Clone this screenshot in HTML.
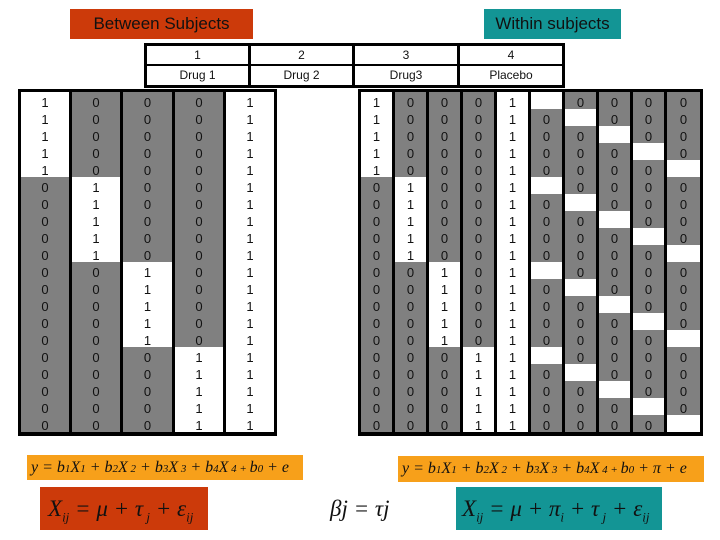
<!DOCTYPE html>
<html><head><meta charset="utf-8"><style>
body{margin:0;width:720px;height:540px;background:#fff;position:relative;overflow:hidden;font-family:"Liberation Sans",Arial,sans-serif}
.a{position:absolute}
.col{position:absolute;top:92px;height:340px;text-align:center;font-size:13px;line-height:17px;color:#111;padding-top:2px;box-sizing:border-box}
.L{width:48px}.R{width:31px}
.hd{position:absolute;background:#000}
.hc{position:absolute;background:#fff;text-align:center;font-size:12px;color:#111}
.eq{font-family:"Liberation Serif",serif;font-style:italic;color:#111;white-space:nowrap}
</style></head><body>
<div class="a" style="left:70px;top:9px;width:183px;height:30px;background:#cc3a0a;font-size:17px;line-height:30px;text-align:center;color:#111">Between Subjects</div>
<div class="a" style="left:484px;top:9px;width:137px;height:30px;background:#139595;font-size:17px;line-height:30px;text-align:center;color:#111">Within subjects</div>

<div class="hd" style="left:144px;top:43px;width:421px;height:45px"></div>
<div class="hc" style="left:147px;top:46px;width:101px;height:18px;line-height:18px">1</div>
<div class="hc" style="left:251px;top:46px;width:101px;height:18px;line-height:18px">2</div>
<div class="hc" style="left:355px;top:46px;width:102px;height:18px;line-height:18px">3</div>
<div class="hc" style="left:460px;top:46px;width:102px;height:18px;line-height:18px">4</div>
<div class="hc" style="left:147px;top:66px;width:101px;height:19px;line-height:19px">Drug 1</div>
<div class="hc" style="left:251px;top:66px;width:101px;height:19px;line-height:19px">Drug 2</div>
<div class="hc" style="left:355px;top:66px;width:102px;height:19px;line-height:19px">Drug3</div>
<div class="hc" style="left:460px;top:66px;width:102px;height:19px;line-height:19px">Placebo</div>

<!-- left block -->
<div class="a" style="left:18px;top:89px;width:259px;height:347px;background:#000"></div>
<div class="col L" style="left:21px;background:linear-gradient(#fff 0 85px,#808080 85px)">1<br>1<br>1<br>1<br>1<br>0<br>0<br>0<br>0<br>0<br>0<br>0<br>0<br>0<br>0<br>0<br>0<br>0<br>0<br>0</div>
<div class="col L" style="left:72px;background:linear-gradient(#808080 0 85px,#fff 85px 170px,#808080 170px)">0<br>0<br>0<br>0<br>0<br>1<br>1<br>1<br>1<br>1<br>0<br>0<br>0<br>0<br>0<br>0<br>0<br>0<br>0<br>0</div>
<div class="col L" style="left:123px;width:49px;background:linear-gradient(#808080 0 170px,#fff 170px 255px,#808080 255px)">0<br>0<br>0<br>0<br>0<br>0<br>0<br>0<br>0<br>0<br>1<br>1<br>1<br>1<br>1<br>0<br>0<br>0<br>0<br>0</div>
<div class="col L" style="left:175px;background:linear-gradient(#808080 0 255px,#fff 255px)">0<br>0<br>0<br>0<br>0<br>0<br>0<br>0<br>0<br>0<br>0<br>0<br>0<br>0<br>0<br>1<br>1<br>1<br>1<br>1</div>
<div class="col L" style="left:226px;background:#fff">1<br>1<br>1<br>1<br>1<br>1<br>1<br>1<br>1<br>1<br>1<br>1<br>1<br>1<br>1<br>1<br>1<br>1<br>1<br>1</div>

<!-- right block -->
<div class="a" style="left:358px;top:89px;width:345px;height:347px;background:#000"></div>
<div class="col R" style="left:361px;background:linear-gradient(#fff 0 85px,#808080 85px)">1<br>1<br>1<br>1<br>1<br>0<br>0<br>0<br>0<br>0<br>0<br>0<br>0<br>0<br>0<br>0<br>0<br>0<br>0<br>0</div>
<div class="col R" style="left:395px;background:linear-gradient(#808080 0 85px,#fff 85px 170px,#808080 170px)">0<br>0<br>0<br>0<br>0<br>1<br>1<br>1<br>1<br>1<br>0<br>0<br>0<br>0<br>0<br>0<br>0<br>0<br>0<br>0</div>
<div class="col R" style="left:429px;background:linear-gradient(#808080 0 170px,#fff 170px 255px,#808080 255px)">0<br>0<br>0<br>0<br>0<br>0<br>0<br>0<br>0<br>0<br>1<br>1<br>1<br>1<br>1<br>0<br>0<br>0<br>0<br>0</div>
<div class="col R" style="left:463px;background:linear-gradient(#808080 0 255px,#fff 255px)">0<br>0<br>0<br>0<br>0<br>0<br>0<br>0<br>0<br>0<br>0<br>0<br>0<br>0<br>0<br>1<br>1<br>1<br>1<br>1</div>
<div class="col R" style="left:497px;background:#fff">1<br>1<br>1<br>1<br>1<br>1<br>1<br>1<br>1<br>1<br>1<br>1<br>1<br>1<br>1<br>1<br>1<br>1<br>1<br>1</div>
<div class="col R" style="left:531px;background:repeating-linear-gradient(#fff 0 17px,#808080 17px 85px)">&nbsp;<br>0<br>0<br>0<br>0<br>&nbsp;<br>0<br>0<br>0<br>0<br>&nbsp;<br>0<br>0<br>0<br>0<br>&nbsp;<br>0<br>0<br>0<br>0</div>
<div class="col R" style="left:565px;background:repeating-linear-gradient(#808080 0 17px,#fff 17px 34px,#808080 34px 85px)">0<br>&nbsp;<br>0<br>0<br>0<br>0<br>&nbsp;<br>0<br>0<br>0<br>0<br>&nbsp;<br>0<br>0<br>0<br>0<br>&nbsp;<br>0<br>0<br>0</div>
<div class="col R" style="left:599px;background:repeating-linear-gradient(#808080 0 34px,#fff 34px 51px,#808080 51px 85px)">0<br>0<br>&nbsp;<br>0<br>0<br>0<br>0<br>&nbsp;<br>0<br>0<br>0<br>0<br>&nbsp;<br>0<br>0<br>0<br>0<br>&nbsp;<br>0<br>0</div>
<div class="col R" style="left:633px;background:repeating-linear-gradient(#808080 0 51px,#fff 51px 68px,#808080 68px 85px)">0<br>0<br>0<br>&nbsp;<br>0<br>0<br>0<br>0<br>&nbsp;<br>0<br>0<br>0<br>0<br>&nbsp;<br>0<br>0<br>0<br>0<br>&nbsp;<br>0</div>
<div class="col R" style="left:667px;width:33px;background:repeating-linear-gradient(#808080 0 68px,#fff 68px 85px)">0<br>0<br>0<br>0<br>&nbsp;<br>0<br>0<br>0<br>0<br>&nbsp;<br>0<br>0<br>0<br>0<br>&nbsp;<br>0<br>0<br>0<br>0<br>&nbsp;</div>

<!-- equations -->
<div class="a eq" style="left:27px;top:455px;width:276px;height:25px;background:#f7a01a;font-size:16px;line-height:25px;padding-left:4px;box-sizing:border-box">y = b<span style="font-size:11px">1</span>X<span style="font-size:11px">1</span> + b<span style="font-size:11px">2</span>X<span style="font-size:11px"> 2</span> + b<span style="font-size:11px">3</span>X<span style="font-size:11px"> 3</span> + b<span style="font-size:11px">4</span>X<span style="font-size:11px"> 4 + </span>b<span style="font-size:11px">0</span> + e</div>
<div class="a eq" style="left:40px;top:487px;width:168px;height:43px;background:#cc3a0a;font-size:23px;line-height:43px;padding-left:8px;box-sizing:border-box">X<sub style="font-size:13px">ij</sub> = μ + τ<sub style="font-size:13px"> j</sub> + ε<sub style="font-size:13px">ij</sub></div>
<div class="a eq" style="left:330px;top:494px;font-size:23px;line-height:30px">βj = τj</div>
<div class="a eq" style="left:398px;top:456px;width:306px;height:26px;background:#f7a01a;font-size:16px;line-height:26px;padding-left:4px;box-sizing:border-box">y = b<span style="font-size:11px">1</span>X<span style="font-size:11px">1</span> + b<span style="font-size:11px">2</span>X<span style="font-size:11px"> 2</span> + b<span style="font-size:11px">3</span>X<span style="font-size:11px"> 3</span> + b<span style="font-size:11px">4</span>X<span style="font-size:11px"> 4 + </span>b<span style="font-size:11px">0</span> + π + e</div>
<div class="a eq" style="left:456px;top:487px;width:206px;height:43px;background:#139595;font-size:23px;line-height:43px;padding-left:6px;box-sizing:border-box">X<sub style="font-size:13px">ij</sub> = μ + π<sub style="font-size:13px">i</sub> + τ<sub style="font-size:13px"> j</sub> + ε<sub style="font-size:13px">ij</sub></div>
</body></html>
